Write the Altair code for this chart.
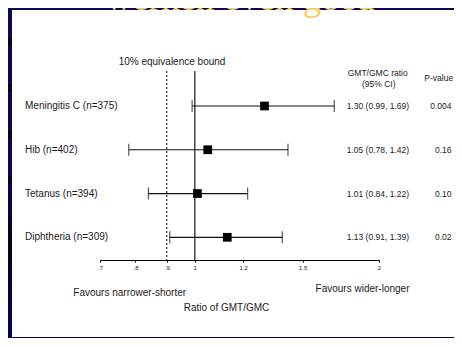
import altair as alt
import pandas as pd

# ---- data ----
rows = ["Meningitis C (n=375)", "Hib (n=402)", "Tetanus (n=394)", "Diphtheria (n=309)"]
est = [1.30, 1.05, 1.01, 1.13]
lo = [0.99, 0.78, 0.84, 0.91]
hi = [1.69, 1.42, 1.22, 1.39]
ratio_text = ["1.30 (0.99, 1.69)", "1.05 (0.78, 1.42)", "1.01 (0.84, 1.22)", "1.13 (0.91, 1.39)"]
p_values = ["0.004", "0.16", "0.10", "0.02"]
tick_values = [0.7, 0.8, 0.9, 1, 1.2, 1.5, 2]
tick_labels = [".7", ".8", ".9", "1", "1.2", "1.5", "2"]
null_value = [1.0]
equiv_bound = [0.9]

W, H = 279, 189
PAD = {"left": 92, "top": 63, "right": 75, "bottom": 78}
FONT = "Liberation Sans"
TXT = "#1a1a1a"

df = pd.DataFrame({"row": rows, "est": est, "lo": lo, "hi": hi,
                   "ratio": ratio_text, "p": p_values})

label_expr = " : ".join(f"datum.value == {v} ? '{l}'" for v, l in zip(tick_values, tick_labels)) + " : ''"

xaxis = alt.Axis(values=tick_values, labelExpr=label_expr, title="Ratio of GMT/GMC",
                 grid=False, domainColor="black", domainWidth=1, tickColor="black",
                 tickSize=2, tickWidth=1, labelFontSize=6, labelPadding=2,
                 labelColor=TXT, labelFont=FONT, labelFlush=False, labelOverlap=False,
                 titleFont=FONT, titleFontSize=10, titleFontWeight="normal",
                 titleColor=TXT, titleX=126, titleY=47.7, titleAlign="center",
                 titleBaseline="middle", zindex=1)
xscale = alt.Scale(type="log", domain=[0.7, 2], nice=False)


def xq(field):
    return alt.X(field, scale=xscale, axis=xaxis)


yenc = alt.Y("row:N", sort=rows, axis=None,
             scale=alt.Scale(type="point", range=[35, 166.3], padding=0))


def note(text, x, y, size=10, align="center", color=TXT, font=FONT, baseline="middle"):
    return alt.Chart(pd.DataFrame({"t": [text]})).mark_text(
        align=align, baseline=baseline, fontSize=size, font=font, color=color
    ).encode(x=alt.value(x), y=alt.value(y), text="t:N")


def box(x0, x1, y0, y1, color):
    return alt.Chart(pd.DataFrame({"a": [0]})).mark_rect(color=color).encode(
        x=alt.value(x0), x2=alt.value(x1), y=alt.value(y0), y2=alt.value(y1))


# slide background (navy with a darker band lower down)
slide_grad = alt.LinearGradient(
    gradient="linear", x1=0, x2=0, y1=0, y2=1,
    stops=[alt.GradientStop(color="#0b0b55", offset=0),
           alt.GradientStop(color="#080848", offset=0.55),
           alt.GradientStop(color="#03031a", offset=0.7),
           alt.GradientStop(color="#04043a", offset=0.85),
           alt.GradientStop(color="#000066", offset=1)])
slide = alt.Chart(pd.DataFrame({"a": [0]})).mark_rect(color=slide_grad).encode(
    x=alt.value(-100), x2=alt.value(362), y=alt.value(-71), y2=alt.value(276))

stripe_tops = [38, 84, 130, 176, 222]  # page y of the darker slide stripes
stripes = [box(-100, -88, t - 71, t - 63, "#05051f") for t in stripe_tops]

panel = box(-88, 362, -61, 266, "white")

title = note("werken even goed", 140, -61.5, size=37, color="#FCCB66",
             font="Liberation Serif", baseline="alphabetic")

bound_rule = alt.Chart(pd.DataFrame({"b": equiv_bound})).mark_rule(
    color="black", strokeWidth=1, strokeDash=[2, 2]).encode(x=xq("b:Q"))
null_rule = alt.Chart(pd.DataFrame({"n": null_value})).mark_rule(
    color="#444444", strokeWidth=1.5).encode(x=xq("n:Q"))

err = alt.Chart(df).mark_rule(color="#111111", strokeWidth=1.2).encode(
    x=xq("lo:Q"), x2="hi:Q", y=yenc)
caps = alt.Chart(df).transform_fold(["lo", "hi"], as_=["end", "xv"]).mark_tick(
    orient="vertical", size=12, thickness=1.2, color="#111111").encode(
    x=xq("xv:Q"), y=yenc)
squares = alt.Chart(df).mark_square(size=76, filled=True, color="black", opacity=1).encode(
    x=xq("est:Q"), y=yenc)

row_labels = alt.Chart(df).mark_text(align="left", baseline="middle", fontSize=10,
                                     font=FONT, color=TXT).encode(
    x=alt.value(-75), y=yenc, text="row:N")
ratio_labels = alt.Chart(df).mark_text(align="left", baseline="middle", fontSize=8.5,
                                       font=FONT, color=TXT).encode(
    x=alt.value(246.7), y=yenc, text="ratio:N")
p_labels = alt.Chart(df).mark_text(align="right", baseline="middle", fontSize=8.5,
                                   font=FONT, color=TXT).encode(
    x=alt.value(351.5), y=yenc, text="p:N")

layers = [
    slide, *stripes, panel, title, bound_rule, null_rule, err, caps, squares,
    row_labels, ratio_labels, p_labels,
    note("GMT/GMC ratio", 277.7, 2, size=8.5),
    note("(95% CI)", 278.7, 13, size=8.5),
    note("P-value", 338.7, 6.7, size=8.5),
    note("10% equivalence bound", 72, -9.3, size=10),
    note("Favours narrower-shorter", 29.7, 222, size=10),
    note("Favours wider-longer", 262.5, 218, size=10),
]

chart = alt.layer(*layers).properties(
    width=W, height=H, padding=PAD,
    autosize=alt.AutoSizeParams(type="none"),
    background="#0a0a50",
).configure_view(stroke=None)

chart.save("out.html", embed_options={"renderer": "svg", "actions": False})
